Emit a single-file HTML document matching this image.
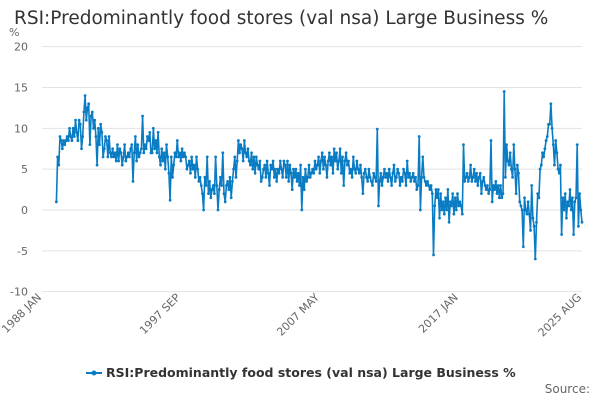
<!DOCTYPE html>
<html><head><meta charset="utf-8"><style>
body{margin:0;background:#fff;font-family:"DejaVu Sans",sans-serif}
svg text{font-family:"DejaVu Sans",sans-serif}
</style></head><body>
<svg id="c" width="600" height="400" xmlns="http://www.w3.org/2000/svg">
<text x="14" y="24" font-size="18.5" fill="#333">RSI:Predominantly food stores (val nsa) Large Business %</text>
<text x="9" y="36" font-size="11" fill="#666">%</text>
<g id="grid"></g><g id="xax"></g><g id="series"></g>
<g>
<line x1="86" y1="373" x2="102" y2="373" stroke="#0a7cc4" stroke-width="2"/>
<circle cx="94" cy="373" r="2.5" fill="#0a7cc4"/>
<text x="106" y="377" font-size="12.5" font-weight="bold" fill="#333">RSI:Predominantly food stores (val nsa) Large Business %</text>
</g>
<text x="590" y="393" text-anchor="end" font-size="12" fill="#666">Source:</text>
</svg>
<script>
const yTicks=[20,15,10,5,0,-5,-10];
const xLabels=["1988 JAN","1997 SEP","2007 MAY","2017 JAN","2025 AUG"];
const xLabelMonths=[0,116,232,348,451];
const startMonth=12;
const values=[
1,6.5,5.5,9,8.5,7.5,8.5,8,8.5,9,8.5,10,
9,8.5,10,9,11,9.5,8.5,11,10.5,7.5,9,12,
14,11,12.5,13,8,11.5,12,10,11,9,5.5,10,
8,10.5,9.5,6.5,7.5,9,8.5,6.5,9,7,6.5,7.5,
6.5,7,6,8,6,7.5,7,5.5,6.5,8,6,6.5,
7,6.5,7.5,8,3.5,7,9,6,8,6.5,7,7.5,
11.5,7,8,7.5,9,8.5,9.5,7,7,10,7.5,8.5,
7,9.5,6.5,5.5,7.5,6,7,5,8,6.5,4.5,1.2,
6.5,4,5.5,7,6.5,8.5,6.5,7,6,7.5,6.5,7,
6.5,5,5.5,6,4.5,6.5,5,5.5,4,6.5,5,3.5,
4,3,2,0,4,3,6.5,2,3.5,1.5,2.5,3,
2,6.5,3,0,2.5,4,3,7,2,1,3,3.5,
2.5,4,1.5,3.5,5,6.5,4,6,8.5,7,8,7.5,
6,8.5,7,6.5,7.5,6,5.5,7,5,6.5,4.5,6.5,
5.5,5,6,3.5,4,5,5.5,4,6,4.5,3,5.5,
5,6,4,5,3.5,5,4.5,6,5,4,6,5.5,
4,6,3.5,5.5,4.5,2.5,5,4,5,3.5,4.5,3,
5.5,0,4,2.5,5,3.5,4,5.5,4,4.5,5,4.5,
6,5,5.5,6.5,4.5,6,7,5,6.5,5.5,4,6,
7,5.5,6.5,4.5,7.5,6,7,5,6,7.5,4.5,6.5,
3,6,7,5.5,6,4.5,5,4,6.5,5,4.5,6,
5,4.5,5.5,4,2,4.5,5,4,3.5,5,4,3.5,
3,4.5,4,3.5,9.9,0.5,3.5,4.5,3,4,5,4,
4.5,3.5,5,4,3,4.5,5.5,3.5,4,5,4.5,3,
4,3.5,5,4.5,3,6,4,4.5,3.5,4,4.5,3.5,
4,2.5,3,9,0,4,6.5,4,3.5,3,3.5,3,
2.5,3,2,-5.5,0.5,2.5,1.5,2.5,-1,2,0,1,
-0.5,1.5,0,2.5,-1.5,1,0.5,2,-0.5,1.5,0,2,
0.5,1,0.5,-0.5,8,3.5,4,4.5,3.5,4,5.5,3.5,
4,5,3.5,4.5,3,4,4.5,2,3.5,4,3,2.5,
3,2,2.5,8.5,1,3,2.5,3.5,2,3,1.5,3,
1.5,2,14.5,4,8,6,5.5,7,5,4,8,5,
2,5.5,4.5,1,0.5,0,-4.5,1.5,0,-0.5,1,-0.5,
-2.5,3,-1,-2,-6,-1.5,2,1.5,5,5.5,7,6.5,
7.5,8.5,9,10.5,10.5,13,10,8,5.5,8.5,7,5,
4.5,5.5,-3,1.5,0,2,-1,1,0.5,2.5,0,1.5,
-3,1,1.5,8,-2,2,0,-1.5];
const NS="http://www.w3.org/2000/svg";
const x0=42,x1=582,totalMonths=451,y0=210,pxPerUnit=8.167;
function xs(m){return x0+(x1-x0)*m/totalMonths;}
function ys(v){return y0-v*pxPerUnit;}
function mk(t,a,p){const e=document.createElementNS(NS,t);for(const k in a)e.setAttribute(k,a[k]);p.appendChild(e);return e;}
const grid=document.getElementById('grid');
yTicks.forEach(v=>{
  const l=mk('line',{x1:x0,x2:x1,y1:ys(v),y2:ys(v),stroke:'#e3e3e3','stroke-width':1},grid);
  
  
  const t=mk('text',{x:28,y:ys(v)+4,'text-anchor':'end','font-size':11,fill:'#666'},grid);
  t.textContent=v;
  
  
});
const xax=document.getElementById('xax');
xLabels.forEach((s,i)=>{
  const x=xs(xLabelMonths[i]);
  const t=mk('text',{x:x,y:298,'text-anchor':'end','font-size':11,fill:'#666',transform:`rotate(-45 ${x} 298)`},xax);
  t.textContent=s;
  
  
});
const g=document.getElementById('series');


const pts=values.map((v,i)=>[xs(startMonth+i),ys(v)]);
const pl=mk('polyline',{points:pts.map(p=>p[0].toFixed(1)+','+p[1].toFixed(1)).join(' '),fill:'none',stroke:'#0a7cc4','stroke-width':1.6,'stroke-linejoin':'round'},g);


pts.forEach(p=>{
  const c=mk('circle',{cx:p[0],cy:p[1],r:1.4,fill:'#0a7cc4'},g);
  
  
});
</script>
</body></html>
